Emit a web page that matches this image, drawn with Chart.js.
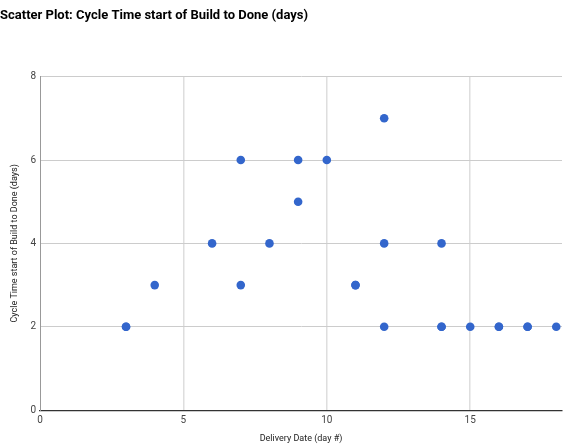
<!DOCTYPE html>
<html>
<head>
<meta charset="utf-8">
<script src="https://cdn.jsdelivr.net/npm/chart.js@4"></script>
<style>
  html, body { margin:0; padding:0; background:#fff; }
  #wrap { width:574px; height:448px; position:relative; }
</style>
</head>
<body>
<div id="wrap"><canvas id="scatter"></canvas></div>
<script>
const TITLE = 'Scatter Plot: Cycle Time start of Build to Done (days)';
const X_TITLE = 'Delivery Date (day #)';
const Y_TITLE = 'Cycle Time start of Build to Done (days)';

// delivery day and cycle time, one entry per delivered item
const deliveryDay = [3, 3, 4, 6, 7, 7, 8, 9, 9, 10, 11, 11, 12, 12, 12, 14, 14, 14, 15, 16, 16, 17, 17, 18];
const cycleTime   = [2, 2, 3, 4, 6, 3, 4, 6, 5, 6, 3, 3, 7, 4, 2, 4, 2, 2, 2, 2, 2, 2, 2, 2];

const X_TICKS = [0, 5, 10, 15];
const Y_TICKS = [0, 2, 4, 6, 8];

function byId(id){ return document.getElementById(id); }

const points = deliveryDay.map((d, i)=> ({ x: d, y: cycleTime[i] }));

const FONT = 'Roboto, Arial, sans-serif';

new Chart(byId('scatter').getContext('2d'), {
  type: 'scatter',
  data: {
    datasets: [{
      label: 'Cycle Time',
      data: points,
      backgroundColor: '#3366CC',
      borderColor: '#3366CC',
      borderWidth: 0,
      pointRadius: 4.3,
      pointHoverRadius: 5
    }]
  },
  options: {
    responsive: true,
    maintainAspectRatio: false,
    animation: false,
    layout: { padding: { left: 0, right: 12, top: 0, bottom: 1 } },
    plugins: {
      legend: { display: false },
      tooltip: { enabled: true },
      title: {
        display: true,
        text: TITLE,
        align: 'start',
        color: '#000',
        font: { family: FONT, size: 13, weight: 'bold' },
        padding: { top: 8, bottom: 53 }
      }
    },
    scales: {
      x: {
        type: 'linear',
        min: 0,
        max: 18.2,
        afterBuildTicks: (axis)=>{ axis.ticks = X_TICKS.map(v=> ({ value: v })); },
        ticks: { color: '#444', font: { family: FONT, size: 10 }, padding: 4, maxRotation: 0 },
        grid: {
          color: (c)=> c.tick && c.tick.value === 0 ? 'rgba(0,0,0,0)' : '#dedede',
          lineWidth: 1.5,
          drawTicks: false
        },
        border: { display: true, color: '#333', width: 1.2 },
        title: {
          display: true,
          text: X_TITLE,
          color: '#222',
          font: { family: FONT, size: 9 },
          padding: { top: 3, bottom: 3 }
        }
      },
      y: {
        type: 'linear',
        min: 0,
        max: 8,
        afterBuildTicks: (axis)=>{ axis.ticks = Y_TICKS.map(v=> ({ value: v })); },
        afterFit: (axis)=>{ axis.width = 40; },
        ticks: { color: '#444', font: { family: FONT, size: 10 }, padding: 4 },
        grid: {
          color: (c)=> c.tick && c.tick.value === 0 ? 'rgba(0,0,0,0)' : '#cccccc',
          lineWidth: 1,
          drawTicks: false
        },
        border: { display: true, color: '#999', width: 1 },
        title: {
          display: true,
          text: Y_TITLE,
          color: '#222',
          font: { family: FONT, size: 9 },
          padding: { top: 9, bottom: 4 }
        }
      }
    }
  }
});
</script>
</body>
</html>
